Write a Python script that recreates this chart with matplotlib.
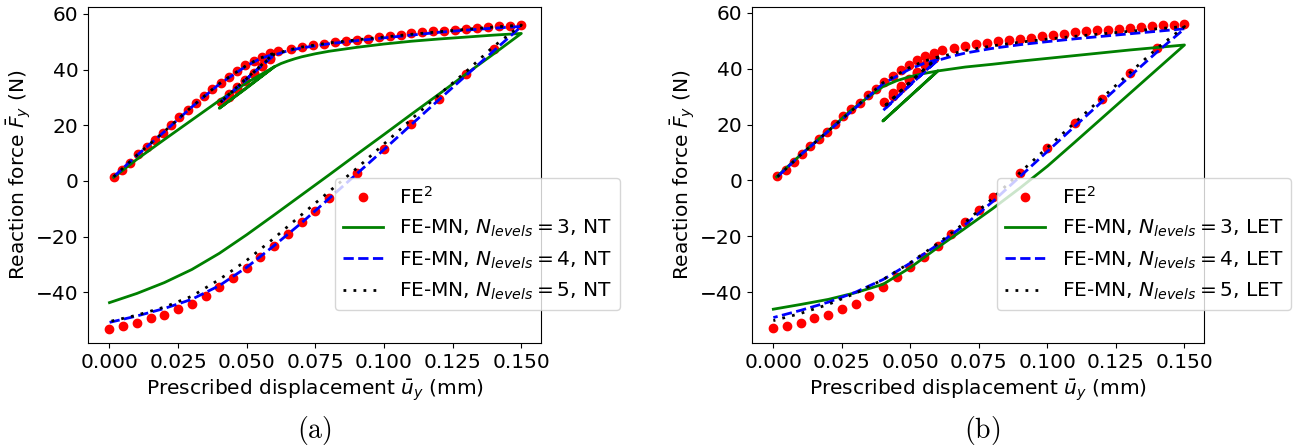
import matplotlib
matplotlib.use("Agg")
import matplotlib.pyplot as plt

# FE2 reference (same in both panels): load 0->0.06, unload to 0.04, reload to 0.15, unload to 0
fe2_u = [0.0015, 0.0045, 0.0075, 0.0105, 0.0135, 0.0165, 0.0195, 0.0225, 0.0255, 0.0285,
         0.0315, 0.0345, 0.0375, 0.0405, 0.0435, 0.0465, 0.0495, 0.0525, 0.0555, 0.0585, 0.0615,
         0.0585, 0.0555, 0.0525, 0.0495, 0.0465, 0.0435, 0.0405,
         0.0435, 0.0465, 0.0495, 0.0525, 0.0555, 0.0585,
         0.066, 0.070, 0.074, 0.078, 0.082, 0.086, 0.090, 0.094, 0.098, 0.102, 0.106,
         0.110, 0.114, 0.118, 0.122, 0.126, 0.130, 0.134, 0.138, 0.142, 0.146, 0.150,
         0.14, 0.13, 0.12, 0.11, 0.10, 0.09, 0.08,
         0.075, 0.07, 0.065, 0.06, 0.055, 0.05, 0.045, 0.04, 0.035, 0.03, 0.025, 0.02,
         0.015, 0.01, 0.005, 0.0]
fe2_f = [1.5, 3.9, 6.6, 9.6, 12.3, 14.7, 17.3, 20.1, 22.9, 25.5,
         27.9, 30.5, 32.9, 35.3, 37.5, 39.6, 41.5, 43.2, 44.6, 45.8, 46.7,
         44.0, 41.2, 38.5, 35.8, 33.0, 30.3, 28.2,
         31.4, 33.9, 36.4, 38.7, 41.4, 43.9,
         47.3, 48.1, 48.7, 49.3, 49.9, 50.3, 50.7, 51.1, 51.6, 52.1, 52.5,
         53.0, 53.4, 53.7, 54.0, 54.2, 54.6, 54.9, 55.3, 55.5, 55.8, 56.1,
         47.3, 38.3, 29.3, 20.4, 11.5, 2.8, -6.0,
         -10.7, -14.8, -19.0, -23.3, -27.4, -31.1, -34.7, -38.2, -41.5, -44.2, -46.1, -48.0,
         -49.4, -50.9, -52.1, -53.0]

# FE-MN path (blue/black curves)
mn_u = [0.0015, 0.01, 0.02, 0.03, 0.04, 0.05, 0.055, 0.06, 0.05, 0.04, 0.05, 0.06,
        0.065, 0.07, 0.08, 0.09, 0.10, 0.11, 0.12, 0.13, 0.14, 0.15,
        0.14, 0.13, 0.12, 0.11, 0.10, 0.09, 0.08, 0.07, 0.06, 0.05, 0.04, 0.03, 0.02, 0.01, 0.0]

# (a) NT
g3_nt_u = [0.0015, 0.01, 0.02, 0.03, 0.04, 0.05, 0.06, 0.05, 0.04, 0.05, 0.06,
           0.0625, 0.065, 0.0675, 0.07, 0.075, 0.08, 0.09, 0.10, 0.11, 0.12, 0.13, 0.14, 0.15,
           0.14, 0.13, 0.12, 0.11, 0.10, 0.09, 0.08, 0.07, 0.06, 0.05, 0.04, 0.03, 0.02, 0.01, 0.0]
g3_nt_f = [1.3, 7.8, 14.9, 21.9, 28.9, 35.3, 41.0, 33.4, 26.1, 33.6, 41.0,
           42.2, 43.1, 43.9, 44.6, 45.7, 46.6, 48.0, 49.2, 50.2, 51.0, 51.7, 52.4, 53.0,
           45.7, 38.5, 31.2, 24.0, 16.7, 9.5, 2.2, -5.0, -12.2, -19.3, -26.0, -31.8, -36.5, -40.4, -43.7]
b4_nt_f = [1.5, 9.2, 17.7, 26.6, 34.8, 41.4, 44.0, 45.6, 36.6, 27.8, 36.8, 45.2,
           46.8, 47.8, 49.3, 50.4, 51.4, 52.4, 53.4, 54.2, 54.9, 55.5,
           46.8, 38.0, 29.2, 20.3, 11.3, 2.5, -6.3, -15.0, -23.2, -31.0, -37.6, -42.5, -45.8, -48.5, -50.8]
k5_nt_f = [1.5, 9.3, 17.8, 26.7, 35.0, 41.6, 44.2, 45.9, 36.8, 27.9, 37.0, 45.5,
           47.0, 48.1, 49.6, 50.7, 51.7, 52.7, 53.6, 54.5, 55.3, 56.0,
           48.4, 39.4, 31.0, 22.2, 13.3, 4.5, -3.8, -12.1, -20.5, -28.5, -35.4, -41.4, -45.3, -48.2, -50.5]

# (b) LET
g3_let_u = [0.0012, 0.01, 0.02, 0.028, 0.034, 0.04, 0.045, 0.05, 0.055, 0.06, 0.04, 0.06,
            0.07, 0.08, 0.09, 0.10, 0.11, 0.12, 0.13, 0.14, 0.15,
            0.14, 0.13, 0.12, 0.11, 0.10, 0.09, 0.08, 0.07, 0.06, 0.05, 0.04, 0.03, 0.02, 0.01, 0.0]
g3_let_f = [1.3, 9.2, 17.7, 24.8, 29.4, 33.6, 35.7, 37.2, 38.3, 39.2, 21.3, 39.2,
            40.6, 41.6, 42.7, 43.7, 44.7, 45.7, 46.7, 47.6, 48.5,
            39.8, 31.1, 22.4, 13.7, 5.1, -2.7, -10.1, -17.1, -24.0, -31.2, -37.2, -40.2, -42.6, -44.4, -46.1]
b4_let_f = [1.3, 9.2, 17.6, 26.0, 34.6, 40.0, 41.9, 43.3, 34.2, 25.0, 34.4, 43.0,
            44.4, 45.6, 47.3, 48.6, 49.7, 50.7, 51.6, 52.5, 53.4, 54.3,
            46.0, 37.2, 28.3, 19.4, 10.4, 1.4, -7.6, -15.8, -23.0, -29.6, -35.5, -40.0, -43.6, -46.5, -49.1]
k5_let_f = [1.3, 9.2, 17.7, 26.2, 35.0, 40.6, 42.7, 44.2, 35.2, 26.0, 35.4, 44.0,
            45.3, 46.5, 48.2, 49.5, 50.6, 51.6, 52.5, 53.4, 54.3, 55.1,
            47.3, 38.5, 29.6, 20.7, 11.8, 2.8, -6.4, -15.0, -22.6, -29.4, -35.5, -40.4, -44.4, -47.6, -50.2]

plt.rcParams['font.size'] = 14.5

fig = plt.figure(figsize=(13.01, 4.48), dpi=100)
ax1 = fig.add_axes([0.0679, 0.2344, 0.348, 0.75])
ax2 = fig.add_axes([0.5782, 0.2344, 0.3474, 0.75])

panels = [
    (ax1, g3_nt_u, g3_nt_f, b4_nt_f, k5_nt_f, 'NT', 1.1745, (-58.2, 62.5)),
    (ax2, g3_let_u, g3_let_f, b4_let_f, k5_let_f, 'LET', 1.193, (-58.2, 62.1)),
]

for ax, gu, gf, bf, kf, tag, leg_x, ylim in panels:
    ax.plot(fe2_u, fe2_f, 'o', color='red', markersize=6, label=r'FE$^2$')
    ax.plot(gu, gf, '-', color='green', lw=2, label=r'FE-MN, $N_{levels}=3$, ' + tag)
    ax.plot(mn_u, bf, '--', color='blue', lw=2, label=r'FE-MN, $N_{levels}=4$, ' + tag)
    ax.plot(mn_u, kf, color='black', lw=2, dashes=(1, 2.6), label=r'FE-MN, $N_{levels}=5$, ' + tag)
    ax.set_xlim(-0.0077, 0.1572)
    ax.set_ylim(*ylim)
    ax.set_xticks([0.0, 0.025, 0.05, 0.075, 0.1, 0.125, 0.15])
    ax.set_xlabel(r'Prescribed displacement $\bar{u}_y$ (mm)')
    ax.set_ylabel(r'Reaction force $\bar{F}_y$ (N)', labelpad=2)
    ax.legend(loc='lower right', bbox_to_anchor=(leg_x, 0.098), borderaxespad=0, fontsize=14.5)

fig.text(0.242, 0.04, r'$\mathrm{(a)}$', ha='center', va='center', fontsize=20, math_fontfamily='cm')
fig.text(0.755, 0.04, r'$\mathrm{(b)}$', ha='center', va='center', fontsize=20, math_fontfamily='cm')

fig.savefig('out.png', dpi=100)
